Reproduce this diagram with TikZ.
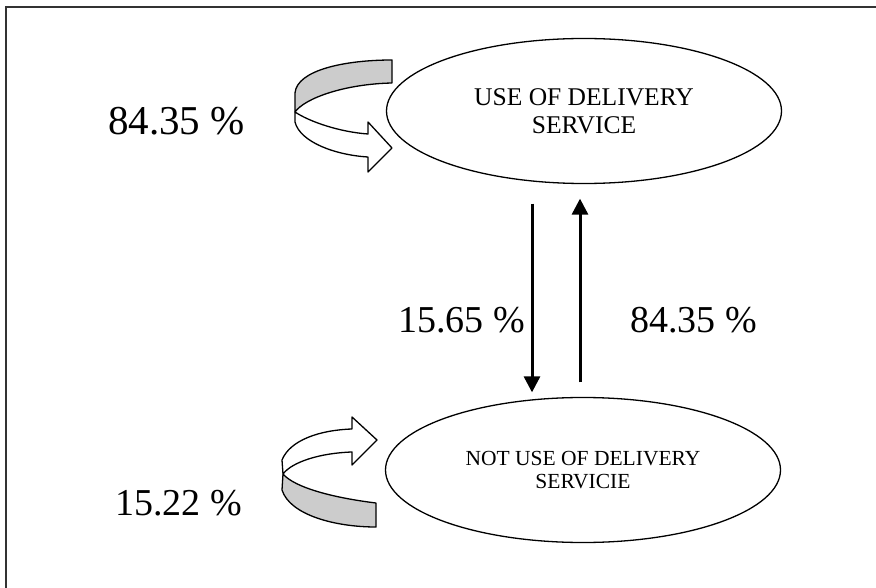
\documentclass[tikz,border=0pt]{standalone}
\usepackage{fontspec}
\setmainfont{Liberation Serif}
\usetikzlibrary{shapes.geometric,arrows.meta}
\begin{document}
\begin{tikzpicture}[x=1pt,y=-1pt,
  state/.style={draw, ellipse, line width=1.3pt, minimum width=395pt, minimum height=145pt, inner sep=0pt, align=center},
  pct/.style={anchor=base west, inner sep=0pt},
  flow/.style={line width=3pt, -{Triangle[width=16pt,length=16pt]}},
  band/.style={draw, line width=1.3pt, line join=round},
  backband/.style={band, fill=black!20},
  frontband/.style={band, fill=white},
  frameline/.style={draw=black!80, line width=2.5pt}]
\useasboundingbox (0,0) rectangle (876,588);
\draw[frameline] (6,590) -- (6,7) -- (880,7);

\node[state, font=\fontsize{25.5}{28}\selectfont] (use) at (584,111) {USE OF DELIVERY\\SERVICE};
\node[state, font=\fontsize{21.5}{23.5}\selectfont] (notuse) at (583,470) {NOT USE OF DELIVERY\\SERVICIE};

\coordinate (d1) at ([xshift=-52pt,yshift=-19.5pt]use.south);
\coordinate (d2) at ([xshift=-51pt,yshift=4.5pt]notuse.north);
\coordinate (u1) at ([xshift=-3pt,yshift=14.5pt]notuse.north);
\coordinate (u2) at ([xshift=-4pt,yshift=-14.5pt]use.south);
\draw[flow] (d1) -- (d2);
\draw[flow] (u1) -- (u2);

\node[pct, font=\fontsize{41}{41}\selectfont] (p1) at (108,135) {84.35 \%};
\node[pct, font=\fontsize{38}{38}\selectfont] (p2) at (398,332) {15.65 \%};
\node[pct, font=\fontsize{38}{38}\selectfont] (p3) at (630,332) {84.35 \%};
\node[pct, font=\fontsize{38}{38}\selectfont] (p4) at (115,515) {15.22 \%};

% top self-loop arrow
\path[backband] (392,60) .. controls (345,60) and (297,70) .. (295,93) -- (295,112) .. controls (305,98) and (345,84) .. (392,83) -- cycle;
\path[frontband] (295,112) .. controls (310,122) and (340,132) .. (368,134) -- (368,122) -- (392,148) -- (368,172) -- (368,157) .. controls (335,155) and (300,142) .. (295,122) -- cycle;

% bottom self-loop arrow
\path[backband] (376,503) .. controls (335,498) and (295,488) .. (283,474) -- (282,490) .. controls (290,515) and (335,527) .. (376,527) -- cycle;
\path[frontband] (282,460) .. controls (290,440) and (320,430) .. (352,429) -- (352,417) -- (377,440) -- (352,465) -- (352,452) .. controls (320,453) and (292,462) .. (283,474) -- cycle;
\end{tikzpicture}
\end{document}
